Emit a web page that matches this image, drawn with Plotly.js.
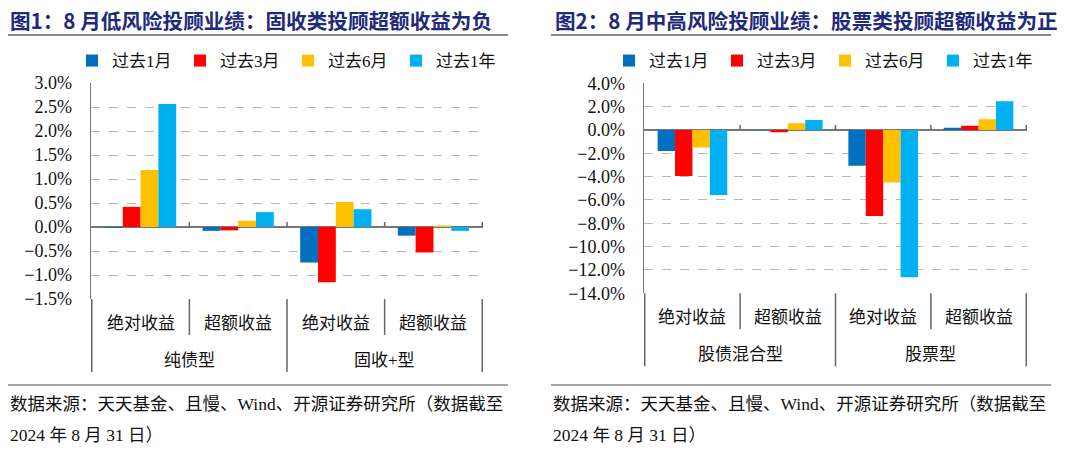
<!DOCTYPE html>
<html><head><meta charset="utf-8">
<script src="https://cdn.plot.ly/plotly-3.0.1.min.js"></script>
<style>html,body{margin:0;padding:0;background:#fff}#c{width:1080px;height:451px}</style>
</head><body><div id="c"></div>
<script>
// ---- data ----
const subCats = ['绝对收益','超额收益','绝对收益','超额收益'];
const groups1 = ['纯债型','纯债型','固收+型','固收+型'];
const groups2 = ['股债混合型','股债混合型','股票型','股票型'];
const groupNames1 = ['纯债型','固收+型'];
const groupNames2 = ['股债混合型','股票型'];
const seriesNames = ['过去1月','过去3月','过去6月','过去1年'];
// chart 1 (%)
const c1_m1 = [-0.02, -0.08, -0.74, -0.18];
const c1_m3 = [0.42, -0.07, -1.15, -0.53];
const c1_m6 = [1.19, 0.13, 0.52, 0.03];
const c1_y1 = [2.56, 0.31, 0.37, -0.08];
// chart 2 (%)
const c2_m1 = [-1.80, -0.03, -3.06, 0.20];
const c2_m3 = [-3.94, -0.20, -7.37, 0.37];
const c2_m6 = [-1.51, 0.57, -4.51, 0.91];
const c2_y1 = [-5.57, 0.86, -12.63, 2.46];
const title1 = '图1：8 月低风险投顾业绩：固收类投顾超额收益为负';
const title2 = '图2：8 月中高风险投顾业绩：股票类投顾超额收益为正';
const sourceLine1 = '数据来源：天天基金、且慢、Wind、开源证券研究所（数据截至';
const sourceLine2 = '2024 年 8 月 31 日）';

// ---- styles ----
const colors = ['#0070C0','#FF0000','#FFC000','#00B0F0'];
const W = 1080, H = 451;
const FONT = '"Liberation Serif", "Noto Sans CJK SC", serif';
const CJK = '"Liberation Serif", "Noto Sans CJK SC", sans-serif';
const py = p => 1 - p / H;
const px = p => p / W;

const c1 = [c1_m1, c1_m3, c1_m6, c1_y1];
const c2 = [c2_m1, c2_m3, c2_m6, c2_y1];
const traces = [];
c1.forEach((v, i) => traces.push({
  type: 'bar', x: [groups1, subCats], y: v, name: seriesNames[i],
  marker: {color: colors[i]}, xaxis: 'x', yaxis: 'y', legend: 'legend',
  hoverinfo: 'skip'
}));
c2.forEach((v, i) => traces.push({
  type: 'bar', x: [groups2, subCats], y: v, name: seriesNames[i],
  marker: {color: colors[i]}, xaxis: 'x2', yaxis: 'y2', legend: 'legend2',
  hoverinfo: 'skip'
}));

const dom1 = [91, 483], dom2 = [644, 1027];
const xcommon = {
  type: 'multicategory', showline: false, showgrid: false, zeroline: false,
  ticks: '', showticklabels: false, showdividers: false, automargin: false
};
const ycommon = {
  showline: true, linecolor: '#777', linewidth: 1.5, ticks: '',
  showgrid: true, gridcolor: '#b8b8b8', griddash: 'dash', gridwidth: 1,
  zeroline: true, zerolinecolor: '#777', zerolinewidth: 1.5,
  tickfont: {family: FONT, size: 18, color: '#111'}, automargin: false,
  ticksuffix: '%', tickformat: '.1f', ticklabelstandoff: 14
};

const shapes = [];
const annotations = [];
const lineStyle = {color: '#666', width: 1.5};
// titles, separators, source
[[8, 553, title1], [551, 553, title2]].forEach(([x0, _, t], k) => {
  const tx = k === 0 ? 8 : 553;
  annotations.push({xref: 'paper', yref: 'paper', x: px(tx), y: py(20), xanchor: 'left', yanchor: 'middle',
    text: '<b>' + t + '</b>', showarrow: false, font: {family: '"Noto Sans CJK SC", sans-serif', size: 20.6, color: '#1F2A7A'}});
  shapes.push({type: 'line', xref: 'paper', yref: 'paper', x0: px(x0), x1: px(x0 + 500), y0: py(35), y1: py(35), line: {color: '#888', width: 2}});
  shapes.push({type: 'line', xref: 'paper', yref: 'paper', x0: px(x0), x1: px(x0 + 500), y0: py(385), y1: py(385), line: {color: '#888', width: 1.5}});
  annotations.push({xref: 'paper', yref: 'paper', x: px(x0), y: py(404), xanchor: 'left', yanchor: 'middle',
    text: sourceLine1, showarrow: false, font: {family: CJK, size: 17.5, color: '#111'}});
  annotations.push({xref: 'paper', yref: 'paper', x: px(x0), y: py(435), xanchor: 'left', yanchor: 'middle',
    text: sourceLine2, showarrow: false, font: {family: CJK, size: 17.5, color: '#111'}});
});
// category labels, dividers, and small ticks above the zero line
[['x', 'y', groupNames1, 299], ['x2', 'y2', groupNames2, 293.3]].forEach(([xr, yr, gn, bottom]) => {
  subCats.forEach((s, i) => {
    annotations.push({xref: xr, yref: 'paper', x: i, y: py(bottom + 24), xanchor: 'center', yanchor: 'middle',
      text: s, showarrow: false, font: {family: CJK, size: 17, color: '#111'}});
  });
  gn.forEach((g, j) => {
    annotations.push({xref: xr, yref: 'paper', x: j * 2 + 0.5, y: py(bottom + 61), xanchor: 'center', yanchor: 'middle',
      text: g, showarrow: false, font: {family: CJK, size: 17, color: '#111'}});
  });
  [-0.5, 0.5, 1.5, 2.5, 3.5].forEach(b => {
    const isGroup = (b === -0.5 || b === 1.5 || b === 3.5);
    shapes.push({type: 'line', xref: xr, yref: 'paper', x0: b, x1: b,
      y0: py(bottom), y1: py(bottom + (isGroup ? 73 : 36)), line: lineStyle});
    if (b > 0) {
      shapes.push({type: 'line', xref: xr, yref: yr, x0: b, x1: b, y0: 0, y1: 5,
        ysizemode: 'pixel', yanchor: 0, line: lineStyle});
    }
  });
});

const legendCommon = {orientation: 'h', xanchor: 'left', yanchor: 'middle',
  font: {family: CJK, size: 17, color: '#111'}, entrywidth: 63, entrywidthmode: 'pixels',
  itemwidth: 30, bgcolor: 'rgba(0,0,0,0)', traceorder: 'normal'};

const layout = {
  width: W, height: H, margin: {l: 0, r: 0, t: 0, b: 0, autoexpand: false},
  paper_bgcolor: '#fff', plot_bgcolor: '#fff', showlegend: true,
  barmode: 'group', bargap: 0.27, bargroupgap: 0,
  xaxis: Object.assign({}, xcommon, {domain: [px(dom1[0]), px(dom1[1])], anchor: 'y'}),
  xaxis2: Object.assign({}, xcommon, {domain: [px(dom2[0]), px(dom2[1])], anchor: 'y2'}),
  yaxis: Object.assign({}, ycommon, {domain: [py(299), py(83)], range: [-1.5, 3.0], dtick: 0.5, anchor: 'x'}),
  yaxis2: Object.assign({}, ycommon, {domain: [py(293.3), py(83.3)], range: [-14, 4], dtick: 2, anchor: 'x2'}),
  legend: Object.assign({}, legendCommon, {x: px(72), y: py(61)}),
  legend2: Object.assign({}, legendCommon, {x: px(609), y: py(61)}),
  shapes: shapes, annotations: annotations
};
Plotly.newPlot('c', traces, layout, {staticPlot: true, displayModeBar: false});
</script></body></html>
